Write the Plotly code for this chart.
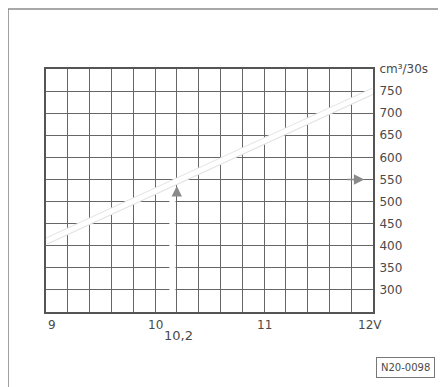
import plotly.graph_objects as go

# Data
volt_line = [9.0, 12.0]
flow_line = [410, 750]
x_read = 10.2
y_read = 550
y_ticks = [300, 350, 400, 450, 500, 550, 600, 650, 700, 750, 800]
y_ticktext = ["300", "350", "400", "450", "500", "550", "600", "650", "700", "750", "cm³/30s"]
x_labels = [9, 10, 11, 12]
x_labeltext = ["9", "10", "11", "12V"]
x_grid = [round(9 + 0.2 * i, 1) for i in range(16)]

FONT = "DejaVu Sans"
TXT = "#4a4a4a"
GRID = "#666666"

fig = go.Figure()

# main white characteristic line (faint grey edge + white band)
fig.add_trace(go.Scatter(x=volt_line, y=flow_line, mode="lines",
                         line=dict(color="#e2e2e2", width=7), hoverinfo="skip"))
fig.add_trace(go.Scatter(x=volt_line, y=flow_line, mode="lines",
                         line=dict(color="white", width=5), hoverinfo="skip"))
# vertical reading shaft (white band)
fig.add_trace(go.Scatter(x=[x_read - 0.04, x_read - 0.04], y=[250, y_read - 20], mode="lines",
                         line=dict(color="white", width=6), hoverinfo="skip"))

# arrowheads
fig.add_annotation(x=x_read, y=y_read - 15, ax=x_read, ay=y_read - 40,
                   xref="x", yref="y", axref="x", ayref="y",
                   showarrow=True, arrowhead=2, arrowsize=1.3, arrowwidth=1.6,
                   arrowcolor="#8a8a8a", text="")
fig.add_annotation(x=11.92, y=y_read, ax=11.75, ay=y_read,
                   xref="x", yref="y", axref="x", ayref="y",
                   showarrow=True, arrowhead=2, arrowsize=1.3, arrowwidth=1.6,
                   arrowcolor="#8a8a8a", text="")

# x labels
for v, t in zip(x_labels, x_labeltext):
    fig.add_annotation(x=v, y=0, xref="x", yref="paper", yanchor="top",
                       xanchor="left" if v == 9 else "center",
                       xshift=-3 if v == 12 else 0, yshift=-4,
                       text=t, showarrow=False,
                       font=dict(family=FONT, size=12, color=TXT))
fig.add_annotation(x=x_read, y=0, xref="x", yref="paper", yanchor="top", xanchor="center",
                   yshift=-14, xshift=2, text="10,2", showarrow=False,
                   font=dict(family=FONT, size=13, color=TXT))

# figure code box
fig.add_annotation(x=1.098, y=-0.23, xref="paper", yref="paper", xanchor="center", yanchor="middle",
                   text="N20-0098", showarrow=False,
                   font=dict(family=FONT, size=10, color=TXT),
                   bordercolor="#777", borderwidth=1, borderpad=4, bgcolor="white")

# outer frame (left and top edges)
fig.add_shape(type="path", xref="paper", yref="paper",
              path="M -0.116,-0.35 L -0.116,1.247 L 1.3,1.247",
              line=dict(color="#8c8c8c", width=1.5))

fig.update_xaxes(range=[9, 12], tickvals=x_grid, showticklabels=False, ticks="",
                 showgrid=True, gridcolor=GRID, gridwidth=1.3,
                 showline=True, linecolor="#555", linewidth=2, mirror=True,
                 zeroline=False, fixedrange=True)
fig.update_yaxes(range=[250, 800], side="right", tickvals=y_ticks, ticktext=y_ticktext,
                 ticks="", ticklabelstandoff=2,
                 tickfont=dict(family=FONT, size=12, color=TXT),
                 showgrid=True, gridcolor=GRID, gridwidth=1.3,
                 showline=True, linecolor="#555", linewidth=2, mirror=True,
                 zeroline=False, fixedrange=True)

fig.update_layout(width=446, height=387, margin=dict(l=38, r=81, t=61, b=83),
                  paper_bgcolor="white", plot_bgcolor="white", showlegend=False)

fig.write_html("out.html")
